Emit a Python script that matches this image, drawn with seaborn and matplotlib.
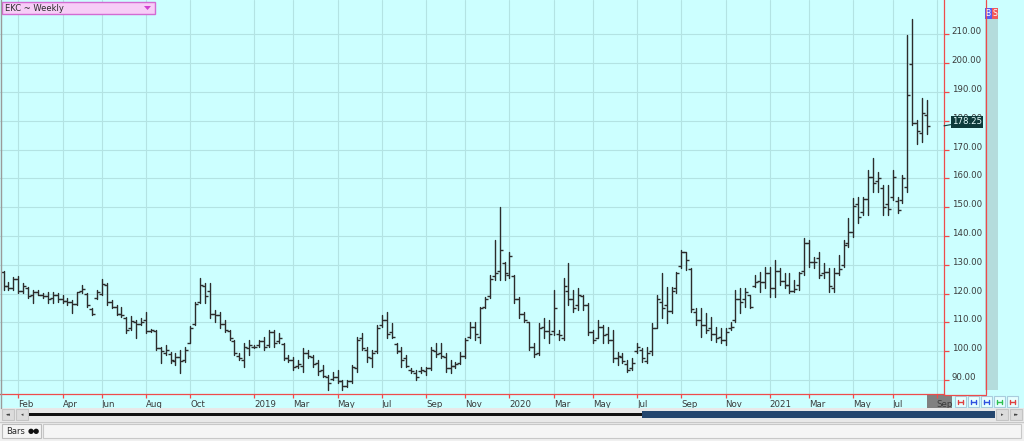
import numpy as np
import pandas as pd
import matplotlib
matplotlib.use("Agg")
import matplotlib.pyplot as plt
from matplotlib.patches import Rectangle, Polygon
from matplotlib.lines import Line2D
from matplotlib.markers import TICKLEFT, TICKRIGHT
from matplotlib.ticker import FormatStrFormatter
import seaborn as sns

# weekly bars (Friday dated), the New Year 2021 week closes on Thu Dec 31
bar_dates = pd.date_range("2018-01-12", periods=189, freq="7D")
bar_dates = bar_dates.where(bar_dates != pd.Timestamp("2021-01-01"), pd.Timestamp("2020-12-31"))

opens = [127.5, 122.5, 122.0, 125.0, 121.0, 122.0, 119.5, 120.5, 119.5, 119.0,
         118.5, 119.5, 118.0, 117.5, 117.0, 116.5, 121.0, 120.0, 114.5, 118.5,
         120.0, 123.0, 117.0, 115.5, 113.0, 111.5, 108.0, 110.0, 109.5, 111.0,
         107.0, 107.0, 101.0, 99.5, 99.0, 96.5, 98.0, 97.0, 103.0, 109.5,
         117.0, 122.5, 121.0, 113.0, 112.5, 109.5, 107.0, 103.5, 98.5, 97.0,
         101.0, 101.5, 102.0, 103.5, 102.0, 106.5, 103.5, 102.5, 97.5, 97.0,
         95.0, 95.0, 99.5, 98.0, 96.0, 93.5, 91.0, 90.5, 91.0, 89.5,
         88.0, 89.5, 94.0, 104.5, 100.5, 97.5, 100.0, 109.0, 111.0, 106.5,
         102.5, 100.0, 97.5, 93.5, 92.5, 93.0, 93.0, 94.0, 100.0, 99.5,
         98.0, 94.0, 95.0, 96.0, 98.5, 105.0, 108.5, 105.0, 115.5, 119.0,
         126.0, 128.0, 130.5, 126.5, 126.0, 118.0, 113.0, 110.0, 101.5, 99.5,
         108.5, 107.0, 107.0, 106.0, 104.5, 121.0, 118.0, 116.0, 119.0, 116.0,
         106.5, 104.5, 108.5, 106.0, 104.0, 97.5, 98.0, 95.5, 94.0, 100.0,
         100.5, 96.5, 100.0, 108.0, 117.0, 116.0, 114.0, 122.0, 129.5, 134.5,
         128.5, 113.5, 111.0, 109.0, 108.0, 106.0, 105.0, 104.0, 108.0, 111.0,
         118.0, 118.0, 119.5, 122.5, 124.5, 124.0, 127.0, 122.0, 128.0, 124.5,
         123.0, 121.0, 123.0, 128.0, 137.5, 131.0, 132.5, 127.0, 127.5, 122.0,
         127.0, 130.0, 137.5, 141.5, 151.0, 148.5, 153.0, 160.5, 159.0, 156.5,
         151.0, 153.5, 152.0, 152.5, 157.0, 199.8, 179.4, 175.6, 182.0]

highs = [128.0, 124.1, 125.6, 126.1, 123.6, 122.4, 121.3, 121.3, 120.1, 120.7,
         120.7, 120.1, 119.5, 118.4, 117.8, 120.7, 123.0, 120.1, 114.9, 121.3,
         125.0, 123.6, 117.8, 116.0, 115.5, 112.0, 112.2, 110.8, 111.4, 113.7,
         107.6, 107.4, 101.6, 102.2, 99.8, 99.3, 100.4, 101.6, 108.8, 117.2,
         125.3, 123.6, 123.6, 114.3, 113.7, 110.8, 107.4, 103.9, 99.3, 102.7,
         103.9, 102.2, 103.9, 105.0, 107.4, 107.4, 106.2, 102.7, 98.7, 98.1,
         96.9, 101.0, 100.4, 98.7, 96.9, 95.2, 91.7, 92.9, 93.5, 90.0,
         90.0, 95.2, 105.0, 106.2, 101.6, 100.4, 109.1, 112.6, 113.7, 109.7,
         102.7, 101.6, 98.7, 94.1, 93.5, 94.6, 94.6, 101.6, 102.7, 102.7,
         99.3, 96.9, 96.4, 99.8, 104.5, 110.0, 110.0, 115.5, 118.9, 126.5,
         138.6, 150.2, 131.1, 134.6, 126.5, 118.9, 113.7, 110.2, 102.7, 109.7,
         111.4, 110.8, 121.2, 107.4, 125.3, 130.5, 121.2, 121.8, 119.5, 116.6,
         107.4, 110.8, 109.1, 108.5, 107.4, 99.8, 99.3, 96.9, 97.5, 102.7,
         101.0, 101.6, 109.7, 119.5, 127.0, 122.4, 122.4, 127.6, 135.1, 134.6,
         128.8, 114.9, 114.9, 113.1, 112.0, 108.5, 107.9, 107.9, 110.2, 121.2,
         121.8, 121.8, 119.5, 126.5, 127.6, 129.4, 129.4, 131.7, 128.8, 127.0,
         127.0, 124.7, 127.6, 139.2, 138.6, 132.8, 134.6, 130.5, 128.8, 128.8,
         133.4, 138.6, 146.1, 153.1, 153.7, 153.7, 162.9, 167.0, 162.3, 157.7,
         157.7, 162.9, 153.7, 161.2, 209.8, 215.3, 180.3, 187.8, 187.2]

lows = [121.3, 121.3, 121.3, 120.1, 120.1, 118.4, 116.6, 119.5, 118.4, 116.6,
        116.6, 117.2, 116.6, 116.0, 113.1, 116.0, 120.1, 115.5, 112.6, 118.0,
        119.5, 116.0, 114.9, 112.6, 112.0, 106.2, 107.4, 104.5, 109.1, 106.2,
        106.8, 100.4, 95.8, 98.7, 95.8, 95.2, 92.3, 96.4, 102.7, 109.1,
        116.6, 116.6, 111.4, 110.2, 108.0, 106.8, 103.9, 98.7, 96.9, 94.6,
        98.7, 101.0, 101.6, 100.4, 101.6, 101.6, 102.7, 96.9, 96.4, 93.5,
        94.1, 92.9, 97.5, 94.6, 91.7, 91.2, 86.5, 90.0, 88.8, 86.5,
        87.7, 88.8, 92.9, 100.4, 96.4, 94.6, 99.3, 108.5, 104.5, 104.5,
        99.3, 94.6, 94.6, 92.3, 90.0, 92.3, 91.7, 93.5, 98.1, 97.5,
        92.9, 92.3, 94.1, 95.5, 97.5, 104.5, 104.0, 102.7, 114.9, 118.4,
        124.7, 124.7, 124.7, 125.3, 116.6, 111.4, 110.2, 100.4, 98.1, 98.7,
        104.5, 102.7, 105.6, 103.9, 103.9, 116.0, 113.7, 114.3, 114.3, 105.6,
        102.7, 104.5, 102.7, 102.7, 96.4, 95.2, 95.8, 92.9, 93.5, 99.3,
        96.4, 95.8, 98.7, 107.9, 111.4, 109.7, 113.1, 120.1, 128.8, 128.2,
        113.7, 109.1, 105.0, 106.2, 103.9, 103.3, 102.7, 102.2, 107.4, 110.2,
        113.1, 115.5, 114.9, 122.4, 120.7, 121.8, 118.9, 118.9, 123.0, 121.8,
        120.1, 120.7, 121.2, 126.5, 129.4, 128.8, 125.3, 125.3, 120.7, 120.7,
        126.5, 129.4, 136.3, 139.8, 144.4, 147.3, 147.3, 155.4, 155.4, 147.3,
        147.3, 152.5, 147.9, 151.3, 155.4, 178.5, 172.0, 172.8, 175.4]

closes = [122.5, 122.0, 125.0, 121.0, 122.5, 119.0, 120.5, 119.5, 119.0, 118.0,
          119.5, 118.0, 117.5, 117.0, 116.5, 120.5, 121.5, 116.0, 113.0, 120.5,
          123.5, 117.0, 115.5, 113.0, 112.5, 107.5, 110.5, 109.5, 110.0, 107.0,
          107.2, 101.0, 100.0, 100.5, 97.0, 98.0, 96.5, 100.5, 108.0, 116.5,
          123.0, 119.0, 113.0, 112.5, 109.5, 107.5, 104.5, 99.5, 97.5, 101.5,
          102.0, 101.5, 103.5, 101.5, 106.5, 103.0, 104.5, 97.5, 97.0, 94.5,
          95.5, 99.5, 98.5, 95.5, 93.0, 91.5, 89.0, 91.0, 89.5, 88.0,
          89.5, 94.5, 104.0, 101.0, 98.0, 99.5, 108.0, 111.0, 106.0, 105.0,
          100.0, 97.0, 95.0, 93.0, 91.0, 93.5, 94.0, 100.5, 99.0, 98.5,
          94.0, 95.0, 95.5, 98.5, 104.0, 108.5, 106.0, 115.0, 118.0, 125.0,
          127.0, 135.0, 127.0, 133.0, 118.0, 113.0, 111.0, 101.5, 99.0, 108.0,
          107.0, 106.0, 115.0, 105.5, 122.5, 118.0, 115.0, 119.5, 116.0, 106.5,
          104.0, 108.5, 105.5, 104.0, 97.5, 98.5, 96.5, 93.5, 96.0, 101.5,
          97.5, 99.5, 108.0, 118.0, 115.0, 114.0, 121.0, 127.0, 134.5, 131.5,
          114.5, 111.0, 109.0, 107.5, 106.0, 104.5, 104.0, 106.5, 108.5, 118.0,
          117.0, 120.5, 115.5, 124.0, 124.0, 127.0, 122.0, 128.0, 124.5, 123.0,
          121.0, 121.5, 127.0, 137.5, 131.0, 131.0, 126.5, 127.5, 122.5, 127.0,
          128.5, 137.0, 141.5, 150.5, 146.5, 153.0, 160.5, 158.5, 160.0, 150.0,
          149.5, 160.5, 149.0, 160.0, 189.0, 179.4, 176.3, 182.6, 178.25]

# date axis labels: every other month, January shown as the year
tick_months = ["2018-02", "2018-04", "2018-06", "2018-08", "2018-10",
               "2019-01", "2019-03", "2019-05", "2019-07", "2019-09", "2019-11",
               "2020-01", "2020-03", "2020-05", "2020-07", "2020-09", "2020-11",
               "2021-01", "2021-03", "2021-05", "2021-07", "2021-09"]
price_ticks = list(range(90, 211, 10))
last_price = 178.25
title = "EKC ~ Weekly"

W, H = 1024, 441
BG = "#CCFFFF"
GRID = "#B3E3E3"
RED = "#EE4B4B"
BAR = "#2C2C2C"
TXT = "#3A3A3A"
YEAR = "#3F3FF5"

sns.set_theme(style="whitegrid")
plt.rcParams["font.family"] = ["DejaVu Sans"]

fig = plt.figure(figsize=(W / 100, H / 100), dpi=100, facecolor=BG)
ax = fig.add_axes([0, 47 / H, 944 / W, 394 / H])
ax.set_facecolor(BG)

# high-low range of each week as its own line (one unit per bar)
idx = np.arange(len(closes))
rng = pd.DataFrame({
    "bar": np.repeat(idx, 2),
    "price": np.column_stack([highs, lows]).ravel(),
})
rng["x"] = rng["bar"]
sns.lineplot(data=rng, x="x", y="price", units="bar", estimator=None, sort=False,
             color=BAR, lw=1.0, legend=False, ax=ax)
ax.plot(idx, opens, ls="none", marker=TICKLEFT, ms=2.0, mew=1.0, color=BAR)
ax.plot(idx, closes, ls="none", marker=TICKRIGHT, ms=2.0, mew=1.0, color=BAR)

ax.set_xlim(-0.725, 191.46)
ax.set_ylim(85.14, 221.94)
ax.set_xlabel("")
ax.set_ylabel("")

# x ticks at the first weekly bar of each labelled month
all_weeks = pd.date_range("2018-01-12", periods=196, freq="7D")
all_weeks = all_weeks.where(all_weeks != pd.Timestamp("2021-01-01"), pd.Timestamp("2020-12-31"))
tpos, tlab = [], []
for m in tick_months:
    t = pd.Timestamp(m + "-01")
    tpos.append(int(all_weeks.searchsorted(t)))
    tlab.append(str(t.year) if t.month == 1 else t.strftime("%b"))
ax.set_xticks(tpos, tlab)
for lbl, m in zip(ax.get_xticklabels(), tick_months):
    lbl.set_ha("left")
    if m.endswith("-01"):
        lbl.set_color(YEAR)

ax.set_yticks(price_ticks)
ax.yaxis.set_major_formatter(FormatStrFormatter("%.2f"))
ax.yaxis.tick_right()
ax.tick_params(axis="y", direction="out", length=3.5, width=0.9, color=RED,
               labelcolor=TXT, labelsize=6.2, pad=2, right=True, left=False)
ax.tick_params(axis="x", direction="out", length=3, width=0.9, color=RED,
               labelcolor=TXT, labelsize=6.2, pad=1.5, bottom=True)
for lbl in ax.get_yticklabels():
    lbl.set_va("baseline")

ax.grid(True, color=GRID, lw=0.8)
ax.set_axisbelow(True)
for side in ["top", "left"]:
    ax.spines[side].set_visible(False)
for side in ["right", "bottom"]:
    ax.spines[side].set_color(RED)
    ax.spines[side].set_linewidth(0.9)

# last price flag (sits over the 180.00 label, as in the terminal)
ax.annotate(f"{last_price:.2f}", xy=(1, last_price), xycoords=("axes fraction", "data"),
            xytext=(8, 4), textcoords="offset pixels", ha="left", va="center",
            fontsize=6.2, color="#E6FFFF", annotation_clip=False,
            bbox=dict(boxstyle="square,pad=0.15", fc="#0E3B3B", ec="none"),
            arrowprops=dict(arrowstyle="-", color="#0E3B3B", lw=0.8, shrinkA=0, shrinkB=0))


def prect(x0, y0, x1, y1, **kw):
    fig.add_artist(Rectangle((x0 / W, 1 - y1 / H), (x1 - x0) / W, (y1 - y0) / H,
                             transform=fig.transFigure, **kw))


def pline(xs, ys, **kw):
    fig.add_artist(Line2D(np.array(xs) / W, 1 - np.array(ys) / H,
                          transform=fig.transFigure, **kw))


def ptext(x, y, s, **kw):
    fig.text(x / W, 1 - y / H, s, **kw)


# right hand strip with B/S buttons
prect(985, 19, 998, 390, fc="#B4DCDC", ec="none")
pline([985.5, 985.5], [0, 394], color=RED, lw=0.9)
pline([944, 986], [394.5, 394.5], color=RED, lw=0.9)
prect(985, 8, 991.5, 19, fc="#5A5AF0", ec="none")
prect(991.5, 8, 998, 19, fc="#F05A5A", ec="none")
ptext(988.3, 13.5, "B", fontsize=5.5, color="white", ha="center", va="center")
ptext(994.8, 13.5, "S", fontsize=5.5, color="white", ha="center", va="center")

# left border
pline([0.5, 0.5], [0, 408], color="#9A9A9A", lw=1)

# title selector
prect(2, 2, 155, 14, fc="#F7CDF7", ec="#D36BD3", lw=1)
ptext(5, 8.5, title, fontsize=6, color="#2B2B2B", ha="left", va="center")
fig.add_artist(Polygon([(144 / W, 1 - 6 / H), (151 / W, 1 - 6 / H), (147.5 / W, 1 - 10 / H)],
                       closed=True, fc="#D040D0", ec="none", transform=fig.transFigure))

# current-period marker under the axis and small chart buttons
prect(927, 395, 952, 407.5, fc="#808080", ec="none", zorder=-1)
btn_colors = ["#E04040", "#3050E0", "#3050E0", "#30C050", "#E04040"]
for k, c in enumerate(btn_colors):
    x0 = 955 + k * 13
    prect(x0, 396, x0 + 11, 407, fc="#E6FFFF", ec="#A9CCDD", lw=0.8)
    pline([x0 + 3, x0 + 8], [401.5, 401.5], color=c, lw=1)
    pline([x0 + 3, x0 + 3], [399.5, 403.5], color=c, lw=1)
    pline([x0 + 8, x0 + 8], [399.5, 403.5], color=c, lw=1)

# scroll bar
prect(0, 408, W, 421, fc="#E8E8E8", ec="none")
prect(2, 409, 14, 420, fc="#DCDCDC", ec="#C4C4C4", lw=0.8)
prect(16, 409, 28, 420, fc="#DCDCDC", ec="#C4C4C4", lw=0.8)
ptext(8, 414.5, "◂◂", fontsize=3.5, color="#444444", ha="center", va="center")
ptext(22, 414.5, "◂", fontsize=3.5, color="#444444", ha="center", va="center")
prect(29, 412.5, 642, 415.5, fc="#111111", ec="none")
prect(642, 411, 995, 418, fc="#24466E", ec="none")
prect(996, 409, 1008, 420, fc="#DCDCDC", ec="#C4C4C4", lw=0.8)
prect(1010, 409, 1022, 420, fc="#DCDCDC", ec="#C4C4C4", lw=0.8)
ptext(1002, 414.5, "▸", fontsize=3.5, color="#444444", ha="center", va="center")
ptext(1016, 414.5, "▸▸", fontsize=3.5, color="#444444", ha="center", va="center")

# status bar
prect(0, 421, W, 441, fc="#F0F0F0", ec="none")
pline([0, W], [421.5, 421.5], color="#C8C8C8", lw=1)
prect(2, 424, 41, 438, fc="#F5F5F5", ec="#BDBDBD", lw=0.8)
ptext(6, 431.5, "Bars", fontsize=6, color="#2B2B2B", ha="left", va="center")
ptext(34, 431, "●●", fontsize=5, color="#111111", ha="center", va="center")
prect(43, 424, 1021, 438, fc="#F5F5F5", ec="#C8C8C8", lw=0.8)

fig.savefig("out.png", dpi=100, facecolor=BG)
